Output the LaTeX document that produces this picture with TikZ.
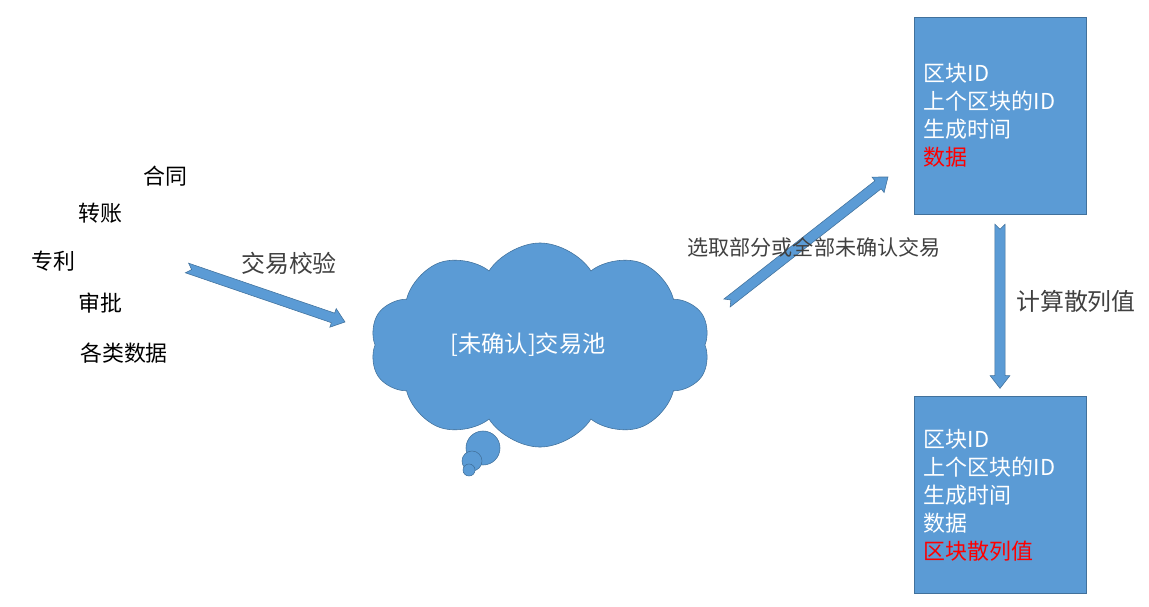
\documentclass[tikz,border=0pt]{standalone}
\usepackage{fontspec}
\setmainfont{Noto Sans CJK SC}
\usetikzlibrary{positioning,shapes.symbols,calc}
\definecolor{blockblue}{HTML}{5B9BD5}
\definecolor{blockedge}{HTML}{41719C}
\definecolor{labelgray}{HTML}{404040}
\tikzset{
	item/.style={font={\fontsize{15.6}{18}\selectfont}, text=black},
	flowlabel/.style={font={\fontsize{17}{20}\selectfont}, text=labelgray},
	block/.style={draw=blockedge, fill=blockblue, text=white, align=left, inner sep=0.25cm,
		text width=3.8cm, minimum height=4.925cm, font={\fontsize{15.6}{19.9}\selectfont}},
	bubble/.style={circle, draw=blockedge, fill=blockblue, inner sep=0},
	blockarrow/.style={draw=blockedge, fill=blockblue, to path={
		let \p1=(\tikztostart), \p2=(\tikztotarget),
		\n1={atan2(\y2-\y1,\x2-\x1)}, \n2={veclen(\x2-\x1,\y2-\y1)} in
		([shift={(\p1)},rotate=\n1]0pt,3.6pt) -- ([shift={(\p1)},rotate=\n1]\n2-9pt,3.6pt)
		-- ([shift={(\p1)},rotate=\n1]\n2-9pt,7pt) -- ([shift={(\p1)},rotate=\n1]\n2,0pt)
		-- ([shift={(\p1)},rotate=\n1]\n2-9pt,-7pt) -- ([shift={(\p1)},rotate=\n1]\n2-9pt,-3.6pt)
		-- ([shift={(\p1)},rotate=\n1]0pt,-3.6pt) -- ([shift={(\p1)},rotate=\n1]3.5pt,0pt) -- cycle}},
}

\begin{document}
\begin{tikzpicture}[x=0.025cm, y=-0.025cm]
	\useasboundingbox (0,0) rectangle (1149,606);

	% kinds of transactions
	\node[item] (contract) at (165,176) {合同};
	\node[item] (transfer) at (100,213) {转账};
	\node[item] (patent) at (53,261) {专利};
	\node[item] (approval) at (100,303) {审批};
	\node[item] (anydata) at (124,353) {各类数据};

	% transaction pool
	\node[cloud, cloud puffs=10, cloud puff arc=115, aspect=1.6, draw=blockedge, fill=blockblue,
		text=white, minimum width=8.5cm, minimum height=5.1cm, font={\fontsize{16.5}{20}\selectfont}]
		(pool) at (540,345) {[未确认]交易池\hspace*{0.6cm}\raisebox{0.15cm}{}};
	\node[bubble, minimum size=0.85cm] (bubble1) at (483,448) {};
	\node[bubble, minimum size=0.5cm] (bubble2) at (472,461) {};
	\node[bubble, minimum size=0.3cm] (bubble3) at (469,470) {};

	% blocks
	\node[block] (block1) at (1000,115.5) {区块ID\\上个区块的ID\\生成时间\\\textcolor{red}{数据}};
	\node[block, below=4.55cm of block1] (block2) {区块ID\\上个区块的ID\\生成时间\\数据\\\textcolor{red}{区块散列值}};

	\coordinate (txin) at (187,268);
	\coordinate (poolin) at (345,322);
	\coordinate (poolout) at (727,303);
	\coordinate (blockin) at (888,177);
	\coordinate (hashtop) at ([yshift=-0.25cm]block1.south);
	\coordinate (hashbot) at ([yshift=0.2cm]block2.north);

	\path[blockarrow] (txin) to (poolin);
	\path[blockarrow] (poolout) to (blockin);
	\path[blockarrow] (hashtop) to (hashbot);

	\node[flowlabel] (check) at (289,263) {交易校验};
	\node[flowlabel, font={\fontsize{15}{18}\selectfont}] (pick) at (814,247) {选取部分或全部未确认交易};
	\node[flowlabel] (hash) at (1076,301) {计算散列值};
\end{tikzpicture}
\end{document}
